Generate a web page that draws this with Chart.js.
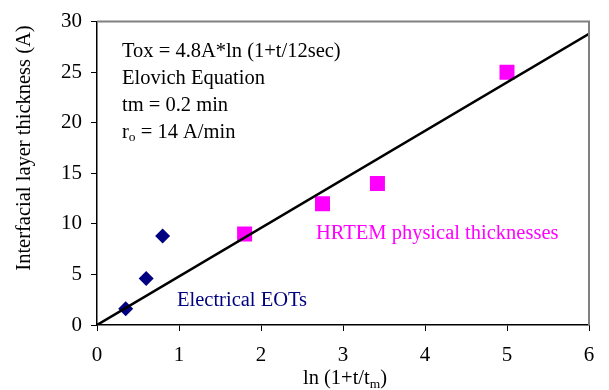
<!DOCTYPE html>
<html>
<head>
<meta charset="utf-8">
<script src="https://cdn.jsdelivr.net/npm/chart.js@4/dist/chart.umd.min.js"></script>
<style>
  html, body { margin: 0; padding: 0; background: #fff; }
  canvas { display: block; }
</style>
</head>
<body>
<canvas id="c" width="609" height="390"></canvas>
<script>
// ---- data ----
const eotX = [0.35, 0.6, 0.8];
const eotY = [1.6, 4.6, 8.8];
const temX = [1.8, 2.75, 3.42, 5.0];
const temY = [9, 12, 14, 25];
const fitX = [0, 6];
const fitY = [0, 28.8];
const xTickValues = [0, 1, 2, 3, 4, 5, 6];
const yTickValues = [0, 5, 10, 15, 20, 25, 30];
const yTitle = "Interfacial layer thickness (A)";
const noteLines = ["Tox = 4.8A*ln (1+t/12sec)", "Elovich Equation", "tm = 0.2 min"];
const eotLabel = "Electrical EOTs";
const temLabel = "HRTEM physical thicknesses";

const FONT = '"Liberation Serif", "Times New Roman", Times, serif';
const FS = 20.5;
const SUB = 13.5;
const pts = (xs, ys) => xs.map((x, i) => ({ x, y: ys[i] }));

const textPlugin = {
  id: 'texts',
  afterDraw(chart) {
    const ctx = chart.ctx;
    const a = chart.chartArea;
    ctx.save();
    // top & right gray frame
    ctx.strokeStyle = '#808080';
    ctx.lineWidth = 2;
    ctx.beginPath();
    ctx.moveTo(a.left, a.top);
    ctx.lineTo(a.right, a.top);
    ctx.lineTo(a.right, a.bottom);
    ctx.stroke();

    ctx.textBaseline = 'alphabetic';
    ctx.textAlign = 'left';
    ctx.font = FS + 'px ' + FONT;
    ctx.fillStyle = '#000';
    const lx = a.left + 25;
    let by = 57;
    noteLines.forEach(t => { ctx.fillText(t, lx, by); by += 27; });
    // r_o line
    ctx.fillText('r', lx, by);
    let w = ctx.measureText('r').width;
    ctx.font = SUB + 'px ' + FONT;
    ctx.fillText('o', lx + w, by + 3);
    w += ctx.measureText('o').width;
    ctx.font = FS + 'px ' + FONT;
    ctx.fillText(' = 14 A/min', lx + w, by);

    // series labels
    ctx.fillStyle = '#000080';
    ctx.fillText(eotLabel, 177, 306);
    ctx.fillStyle = '#FF00FF';
    ctx.fillText(temLabel, 316, 239);

    // x axis title with subscript
    ctx.fillStyle = '#000';
    const p1 = 'ln (1+t/t', p2 = 'm', p3 = ')';
    ctx.font = FS + 'px ' + FONT;
    const w1 = ctx.measureText(p1).width;
    const w3 = ctx.measureText(p3).width;
    ctx.font = SUB + 'px ' + FONT;
    const w2 = ctx.measureText(p2).width;
    const total = w1 + w2 + w3;
    const sx = 345 - total / 2;
    ctx.font = FS + 'px ' + FONT;
    ctx.fillText(p1, sx, 384);
    ctx.font = SUB + 'px ' + FONT;
    ctx.fillText(p2, sx + w1, 388);
    ctx.font = FS + 'px ' + FONT;
    ctx.fillText(p3, sx + w1 + w2, 384);

    // y axis title rotated
    ctx.translate(30, 148);
    ctx.rotate(-Math.PI / 2);
    ctx.textAlign = 'center';
    ctx.fillText(yTitle, 0, 0);
    ctx.restore();
  }
};

new Chart(document.getElementById('c'), {
  type: 'scatter',
  data: {
    datasets: [
      {
        label: 'fit',
        type: 'line',
        data: pts(fitX, fitY),
        borderColor: '#000',
        borderWidth: 2.5,
        pointRadius: 0,
        fill: false,
        tension: 0
      },
      {
        label: eotLabel,
        data: pts(eotX, eotY),
        pointStyle: 'rectRot',
        pointRadius: 7.5,
        backgroundColor: '#000080',
        borderColor: '#000080',
        borderWidth: 0
      },
      {
        label: temLabel,
        data: pts(temX, temY),
        pointStyle: 'rect',
        pointRadius: 10.6,
        backgroundColor: '#FF00FF',
        borderColor: '#FF00FF',
        borderWidth: 0
      }
    ]
  },
  options: {
    responsive: false,
    animation: false,
    layout: { padding: { left: 0, top: 19, right: 20, bottom: 0 } },
    plugins: { legend: { display: false }, tooltip: { enabled: false } },
    scales: {
      x: {
        type: 'linear',
        min: 0, max: 6,
        afterFit(s) { s.height = 65; },
        afterBuildTicks(s) { s.ticks = xTickValues.map(v => ({ value: v })); },
        grid: { drawOnChartArea: false, drawTicks: true, tickLength: 6, color: '#000', lineWidth: 1 },
        border: { display: true, color: '#000', width: 1.5 },
        ticks: { color: '#000', font: { family: FONT, size: 21 }, padding: 12, maxRotation: 0 }
      },
      y: {
        type: 'linear',
        min: 0, max: 30,
        afterFit(s) { s.width = 97; },
        afterBuildTicks(s) { s.ticks = yTickValues.map(v => ({ value: v })); },
        grid: { drawOnChartArea: false, drawTicks: true, tickLength: 6, color: '#000', lineWidth: 1 },
        border: { display: true, color: '#000', width: 1.5 },
        ticks: { color: '#000', font: { family: FONT, size: 21 }, padding: 9 }
      }
    }
  },
  plugins: [textPlugin]
});
</script>
</body>
</html>
